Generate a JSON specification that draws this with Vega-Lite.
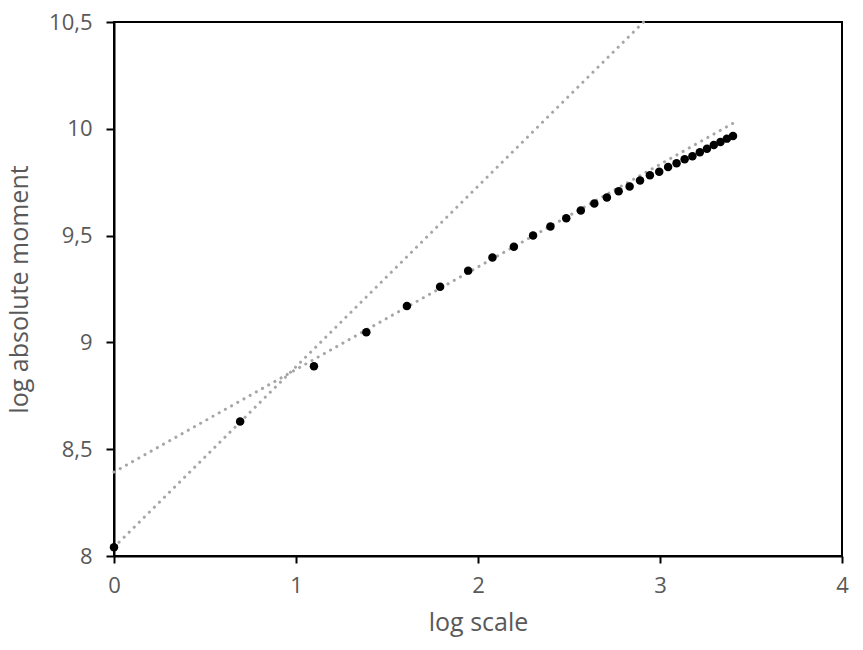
{
  "$schema": "https://vega.github.io/schema/vega-lite/v6.json",
  "width": 728,
  "height": 534,
  "autosize": "none",
  "padding": {"left": 114, "top": 22, "right": 21, "bottom": 94},
  "background": "white",
  "config": {
    "view": {"stroke": "black", "strokeWidth": 2},
    "font": "Open Sans"
  },
  "datasets": {
    "points": [
      {"x": 0.0, "y": 8.041},
      {"x": 0.6931, "y": 8.630},
      {"x": 1.0986, "y": 8.888},
      {"x": 1.3863, "y": 9.048},
      {"x": 1.6094, "y": 9.170},
      {"x": 1.7918, "y": 9.261},
      {"x": 1.9459, "y": 9.336},
      {"x": 2.0794, "y": 9.397},
      {"x": 2.1972, "y": 9.448},
      {"x": 2.3026, "y": 9.500},
      {"x": 2.3979, "y": 9.543},
      {"x": 2.4849, "y": 9.581},
      {"x": 2.5649, "y": 9.617},
      {"x": 2.6391, "y": 9.650},
      {"x": 2.7081, "y": 9.678},
      {"x": 2.7726, "y": 9.708},
      {"x": 2.8332, "y": 9.730},
      {"x": 2.8904, "y": 9.758},
      {"x": 2.9444, "y": 9.782},
      {"x": 2.9957, "y": 9.799},
      {"x": 3.0445, "y": 9.821},
      {"x": 3.0910, "y": 9.839},
      {"x": 3.1355, "y": 9.857},
      {"x": 3.1781, "y": 9.872},
      {"x": 3.2189, "y": 9.890},
      {"x": 3.2581, "y": 9.907},
      {"x": 3.2958, "y": 9.924},
      {"x": 3.3322, "y": 9.938},
      {"x": 3.3673, "y": 9.954},
      {"x": 3.4012, "y": 9.966}
    ],
    "trends": [
      {"line": "all", "x": 0.0, "y": 8.393},
      {"line": "all", "x": 3.4012, "y": 10.026},
      {"line": "first", "x": 0.0, "y": 8.041},
      {"line": "first", "x": 2.91, "y": 10.5}
    ]
  },
  "layer": [
    {
      "data": {"name": "trends"},
      "mark": {"type": "line", "color": "#A6A6A6", "strokeWidth": 3, "strokeDash": [0.1, 7], "strokeCap": "round"},
      "encoding": {
        "x": {
          "field": "x", "type": "quantitative",
          "scale": {"domain": [0, 4], "nice": false},
          "axis": {
            "values": [0, 1, 2, 3, 4], "format": "~g", "grid": false, "labelFlush": false,
            "domainColor": "black", "domainWidth": 2, "tickColor": "black", "tickWidth": 2, "tickSize": 7,
            "labelFontSize": 22, "labelColor": "#595959", "labelPadding": 12,
            "title": "log scale", "titleFontSize": 25, "titleFontWeight": "normal", "titleColor": "#595959", "titlePadding": 14
          }
        },
        "y": {
          "field": "y", "type": "quantitative",
          "scale": {"domain": [8, 10.5], "nice": false, "zero": false},
          "axis": {
            "values": [8, 8.5, 9, 9.5, 10, 10.5], "format": "~g", "grid": false, "labelFlush": false,
            "labelExpr": "replace(datum.label, '.', ',')",
            "domainColor": "black", "domainWidth": 2, "tickColor": "black", "tickWidth": 2, "tickSize": 8,
            "labelFontSize": 22, "labelColor": "#595959", "labelPadding": 14,
            "title": "log absolute moment", "titleFontSize": 25, "titleFontWeight": "normal", "titleColor": "#595959", "titlePadding": 16
          }
        },
        "detail": {"field": "line", "type": "nominal"}
      }
    },
    {
      "data": {"name": "points"},
      "mark": {"type": "circle", "color": "black", "opacity": 1, "size": 72},
      "encoding": {
        "x": {"field": "x", "type": "quantitative"},
        "y": {"field": "y", "type": "quantitative"}
      }
    }
  ]
}
